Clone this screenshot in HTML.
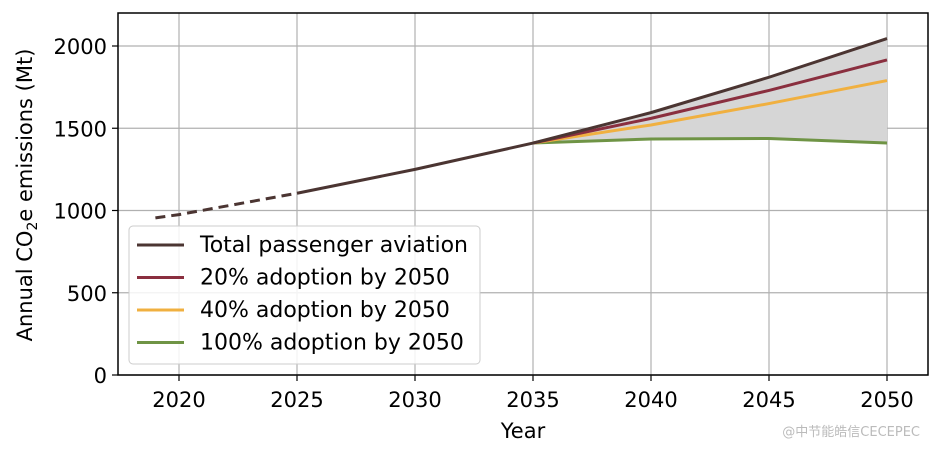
<!DOCTYPE html>
<html><head><meta charset="utf-8"><style>
body{margin:0;background:#fff;font-family:"Liberation Sans","DejaVu Sans",sans-serif}
svg text{font-family:"DejaVu Sans","Liberation Sans",sans-serif;fill:#000}
</style></head><body>
<svg id="c" width="936" height="450" xmlns="http://www.w3.org/2000/svg"></svg>
<script>
const xTicks=[2020,2025,2030,2035,2040,2045,2050];
const yTicks=[0,500,1000,1500,2000];
const histYears=[2019,2020,2025];
const histVals=[955,975,1105];
const totYears=[2025,2030,2035,2040,2045,2050];
const totVals=[1105,1250,1410,1595,1810,2045];
const scYears=[2035,2040,2045,2050];
const s20=[1410,1560,1730,1915];
const s40=[1410,1520,1650,1790];
const s100=[1410,1435,1438,1410];
const NS="http://www.w3.org/2000/svg";
const L=118,R=928,T=13,B=375;
const X=y=>179+(y-2020)*(887-179)/30;
const Y=v=>375-v*(375-46)/2000;
const svg=document.getElementById('c');
function mk(t,a,p){const e=document.createElementNS(NS,t);for(const k in a)e.setAttribute(k,a[k]);(p||svg).appendChild(e);return e;}
xTicks.forEach(t=>{const g=mk('line',{x1:X(t),x2:X(t),y1:T,y2:B,stroke:'#b0b0b0','stroke-width':1.2});

mk('line',{x1:X(t),x2:X(t),y1:B,y2:B+6,stroke:'#000','stroke-width':1.2});
const tx=mk('text',{x:X(t),y:B+32,'text-anchor':'middle','font-size':21});tx.textContent=t;
});
yTicks.forEach(t=>{const g=mk('line',{x1:L,x2:R,y1:Y(t),y2:Y(t),stroke:'#b0b0b0','stroke-width':1.2});

mk('line',{x1:L-6,x2:L,y1:Y(t),y2:Y(t),stroke:'#000','stroke-width':1.2});
const tx=mk('text',{x:L-11,y:Y(t)+8,'text-anchor':'end','font-size':21});tx.textContent=t;
});
let pts=scYears.map((y,i)=>X(y)+','+Y(totVals[i+2])).concat(scYears.slice().reverse().map((y,i)=>X(y)+','+Y(s100[s100.length-1-i])));
const band=mk('polygon',{points:pts.join(' '),fill:'#d6d6d6'});

function line(ys,vs,col,name,dash){const p=mk('polyline',{points:ys.map((y,i)=>X(y)+','+Y(vs[i])).join(' '),fill:'none',stroke:col,'stroke-width':3});
if(dash)p.setAttribute('stroke-dasharray','10,6');
}
line(histYears,histVals,'#4b3532','historical-dashed-line',true);
line(scYears,s100,'#6f9445','line-100-adoption');
line(scYears,s40,'#f0b040','line-40-adoption');
line(scYears,s20,'#8a2f3f','line-20-adoption');
line(totYears,totVals,'#4b3532','line-total-passenger-aviation');
const fr=mk('rect',{x:L,y:T,width:R-L,height:B-T,fill:'none',stroke:'#000','stroke-width':1.5});

const lg=mk('g',{});
mk('rect',{x:129,y:226,width:351,height:138,rx:4,fill:'rgba(255,255,255,0.85)',stroke:'#ccc'},lg);
[['Total passenger aviation','#4b3532'],['20% adoption by 2050','#8a2f3f'],['40% adoption by 2050','#f0b040'],['100% adoption by 2050','#6f9445']].forEach((e,i)=>{
const y=245+i*32.5;
const g=mk('g',{},lg);
mk('line',{x1:137,x2:184,y1:y,y2:y,stroke:e[1],'stroke-width':3},g);
const t=mk('text',{x:200,y:y+7,'font-size':22},g);t.textContent=e[0];});
const xt=mk('text',{x:523,y:438,'text-anchor':'middle','font-size':21});xt.textContent='Year';

const yt=mk('text',{transform:'translate(32,195) rotate(-90)','text-anchor':'middle','font-size':21});
yt.innerHTML='Annual CO<tspan font-size="14" dy="5">2</tspan><tspan dy="-5">e emissions (Mt)</tspan>';

const wm=mk('text',{x:920,y:436,'text-anchor':'end','font-size':13});wm.setAttribute('style','fill:#bbb');wm.textContent='@中节能皓信CECEPEC';

</script>
</body></html>
